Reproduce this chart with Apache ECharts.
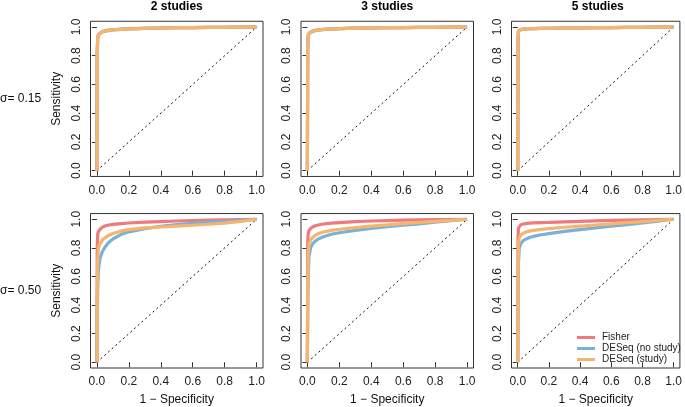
<!DOCTYPE html>
<html>
<head>
<meta charset="utf-8">
<script src="https://cdn.jsdelivr.net/npm/echarts@6/dist/echarts.min.js"></script>
<style>html,body{margin:0;padding:0;background:#fff}#c{width:685px;height:407px}</style>
</head>
<body>
<div id="c"></div>
<script>
// ---- data ----
const columnTitles = ['2 studies', '3 studies', '5 studies'];
const rowLabels = ['σ= 0.15', 'σ= 0.50'];
const seriesNames = ['Fisher', 'DESeq (no study)', 'DESeq (study)'];
const tickValues = [0, 0.2, 0.4, 0.6, 0.8, 1.0];
const diagonal = [0, 1];
// shared false-positive-rate grid (1 - specificity)
const FPR = [0, 0.002, 0.005, 0.01, 0.02, 0.035, 0.05, 0.075, 0.1, 0.15, 0.2, 0.3, 0.4, 0.5, 0.6, 0.7, 0.8, 0.9, 1.0];

// sigma = 0.15
const tpr015_s2_fisher  = [0, 0.82, 0.93, 0.948, 0.96, 0.968, 0.973, 0.978, 0.981, 0.985, 0.988, 0.991, 0.993, 0.995, 0.996, 0.997, 0.998, 0.999, 1];
const tpr015_s2_noStudy = [0, 0.78, 0.92, 0.943, 0.957, 0.966, 0.971, 0.976, 0.979, 0.984, 0.987, 0.990, 0.993, 0.995, 0.996, 0.997, 0.998, 0.999, 1];
const tpr015_s2_study   = [0, 0.80, 0.925, 0.945, 0.958, 0.967, 0.972, 0.977, 0.980, 0.984, 0.987, 0.991, 0.993, 0.995, 0.996, 0.997, 0.998, 0.999, 1];

const tpr015_s3_fisher  = [0, 0.86, 0.942, 0.957, 0.966, 0.973, 0.977, 0.981, 0.984, 0.987, 0.989, 0.992, 0.994, 0.995, 0.996, 0.997, 0.998, 0.999, 1];
const tpr015_s3_noStudy = [0, 0.84, 0.938, 0.953, 0.964, 0.971, 0.975, 0.979, 0.982, 0.986, 0.989, 0.992, 0.994, 0.995, 0.996, 0.997, 0.998, 0.999, 1];
const tpr015_s3_study   = [0, 0.85, 0.94, 0.955, 0.965, 0.972, 0.976, 0.980, 0.983, 0.986, 0.989, 0.992, 0.994, 0.995, 0.996, 0.997, 0.998, 0.999, 1];

const tpr015_s5_fisher  = [0, 0.93, 0.974, 0.979, 0.983, 0.985, 0.987, 0.988, 0.989, 0.990, 0.991, 0.993, 0.994, 0.995, 0.996, 0.997, 0.998, 0.999, 1];
const tpr015_s5_noStudy = [0, 0.91, 0.970, 0.977, 0.981, 0.984, 0.986, 0.988, 0.989, 0.990, 0.991, 0.993, 0.994, 0.995, 0.996, 0.997, 0.998, 0.999, 1];
const tpr015_s5_study   = [0, 0.92, 0.972, 0.978, 0.982, 0.985, 0.987, 0.988, 0.989, 0.990, 0.991, 0.993, 0.994, 0.995, 0.996, 0.997, 0.998, 0.999, 1];

// sigma = 0.50
const tpr050_s2_fisher  = [0, 0.80, 0.895, 0.915, 0.93, 0.945, 0.953, 0.960, 0.964, 0.970, 0.974, 0.980, 0.984, 0.988, 0.991, 0.994, 0.996, 0.998, 1];
const tpr050_s2_noStudy = [0, 0.30, 0.52, 0.65, 0.73, 0.775, 0.805, 0.840, 0.862, 0.893, 0.912, 0.935, 0.950, 0.962, 0.972, 0.980, 0.986, 0.993, 1];
const tpr050_s2_study   = [0, 0.45, 0.70, 0.80, 0.83, 0.855, 0.870, 0.888, 0.900, 0.917, 0.928, 0.940, 0.946, 0.952, 0.958, 0.965, 0.973, 0.985, 1];

const tpr050_s3_fisher  = [0, 0.82, 0.90, 0.92, 0.935, 0.948, 0.955, 0.962, 0.967, 0.973, 0.977, 0.984, 0.988, 0.991, 0.994, 0.996, 0.997, 0.998, 1];
const tpr050_s3_noStudy = [0, 0.35, 0.60, 0.74, 0.80, 0.832, 0.848, 0.866, 0.878, 0.895, 0.906, 0.922, 0.936, 0.948, 0.958, 0.968, 0.979, 0.990, 1];
const tpr050_s3_study   = [0, 0.50, 0.75, 0.83, 0.855, 0.875, 0.888, 0.902, 0.911, 0.922, 0.930, 0.942, 0.952, 0.961, 0.970, 0.978, 0.985, 0.992, 1];

const tpr050_s5_fisher  = [0, 0.88, 0.94, 0.952, 0.962, 0.967, 0.970, 0.973, 0.975, 0.977, 0.978, 0.982, 0.985, 0.989, 0.992, 0.994, 0.996, 0.998, 1];
const tpr050_s5_noStudy = [0, 0.45, 0.70, 0.80, 0.83, 0.85, 0.86, 0.872, 0.880, 0.892, 0.900, 0.915, 0.928, 0.940, 0.952, 0.963, 0.974, 0.987, 1];
const tpr050_s5_study   = [0, 0.60, 0.83, 0.87, 0.89, 0.903, 0.910, 0.917, 0.922, 0.929, 0.934, 0.944, 0.952, 0.960, 0.968, 0.976, 0.984, 0.992, 1];

const panels = [
  [[tpr015_s2_fisher, tpr015_s2_noStudy, tpr015_s2_study],
   [tpr015_s3_fisher, tpr015_s3_noStudy, tpr015_s3_study],
   [tpr015_s5_fisher, tpr015_s5_noStudy, tpr015_s5_study]],
  [[tpr050_s2_fisher, tpr050_s2_noStudy, tpr050_s2_study],
   [tpr050_s3_fisher, tpr050_s3_noStudy, tpr050_s3_study],
   [tpr050_s5_fisher, tpr050_s5_noStudy, tpr050_s5_study]]
];

// ---- layout / style ----
const colors = ['#EE7B7D', '#7AB1D8', '#F6B56C'];
const FONT = '"Liberation Sans", Arial, Helvetica, sans-serif';
const colLeft = [90.5, 301, 511.5];
const boxW = 172.5;
const rowTop = [21.25, 213.55];
const boxH = 155.2;

const grids = [], xAxes = [], yAxes = [], series = [], graphics = [];
let gi = 0;
for (let r = 0; r < 2; r++) {
  for (let c = 0; c < 3; c++) {
    grids.push({left: colLeft[c], top: rowTop[r], width: boxW, height: boxH,
      show: true, borderColor: '#333', borderWidth: 1, backgroundColor: 'transparent', containLabel: false});
    xAxes.push({type: 'value', gridIndex: gi, min: -0.04, max: 1.04,
      name: r === 1 ? '1 − Specificity' : '', nameLocation: 'middle', nameGap: 26,
      nameTextStyle: {fontFamily: FONT, fontSize: 12, color: '#111'},
      axisLine: {show: false},
      axisTick: {show: true, customValues: tickValues, length: 5, lineStyle: {color: '#333'}},
      axisLabel: {customValues: tickValues, margin: 8, fontFamily: FONT, fontSize: 12, color: '#222',
        formatter: v => v.toFixed(1)},
      splitLine: {show: false}});
    yAxes.push({type: 'value', gridIndex: gi, min: -0.04, max: 1.04,
      name: c === 0 ? 'Sensitivity' : '', nameLocation: 'middle', nameGap: 28,
      nameTextStyle: {fontFamily: FONT, fontSize: 12, color: '#111'},
      axisLine: {show: false},
      axisTick: {show: true, customValues: tickValues, length: 5, lineStyle: {color: '#333'}},
      axisLabel: {customValues: tickValues, rotate: 90, margin: 8, fontFamily: FONT, fontSize: 12, color: '#222',
        formatter: v => v.toFixed(1)},
      splitLine: {show: false}});
    series.push({type: 'line', xAxisIndex: gi, yAxisIndex: gi, symbol: 'none', silent: true,
      data: [[diagonal[0], diagonal[0]], [diagonal[1], diagonal[1]]],
      lineStyle: {color: '#111', width: 1, type: [2, 3]}, z: 1});
    panels[r][c].forEach((tpr, k) => {
      series.push({type: 'line', name: seriesNames[k], xAxisIndex: gi, yAxisIndex: gi,
        symbol: 'none', silent: true, smooth: false,
        data: FPR.map((x, i) => [x, tpr[i]]),
        lineStyle: {color: colors[k], width: 3.2}, itemStyle: {color: colors[k]}, z: 2 + k});
    });
    gi++;
  }
}
columnTitles.forEach((t, c) => graphics.push({type: 'text', x: colLeft[c] + boxW / 2, y: 7,
  style: {text: t, font: 'bold 12px ' + FONT, align: 'center', verticalAlign: 'middle', fill: '#000'}}));
rowLabels.forEach((t, r) => graphics.push({type: 'text', x: 0, y: rowTop[r] + boxH / 2,
  style: {text: t, font: '12px ' + FONT, align: 'left', verticalAlign: 'middle', fill: '#111'}}));

const chart = echarts.init(document.getElementById('c'), null, {renderer: 'canvas'});
chart.setOption({
  animation: false,
  backgroundColor: '#fff',
  grid: grids, xAxis: xAxes, yAxis: yAxes, series: series,
  graphic: graphics,
  legend: {data: seriesNames.map((n, k) => ({name: n, icon: 'rect', itemStyle: {color: colors[k]}})),
    orient: 'vertical', left: 577, top: 332, padding: 0,
    itemWidth: 18, itemHeight: 3, itemGap: 0,
    textStyle: {fontFamily: FONT, fontSize: 10, lineHeight: 11, color: '#222', padding: [0, 0, 0, 2]},
    selectedMode: false}
});
</script>
</body>
</html>
